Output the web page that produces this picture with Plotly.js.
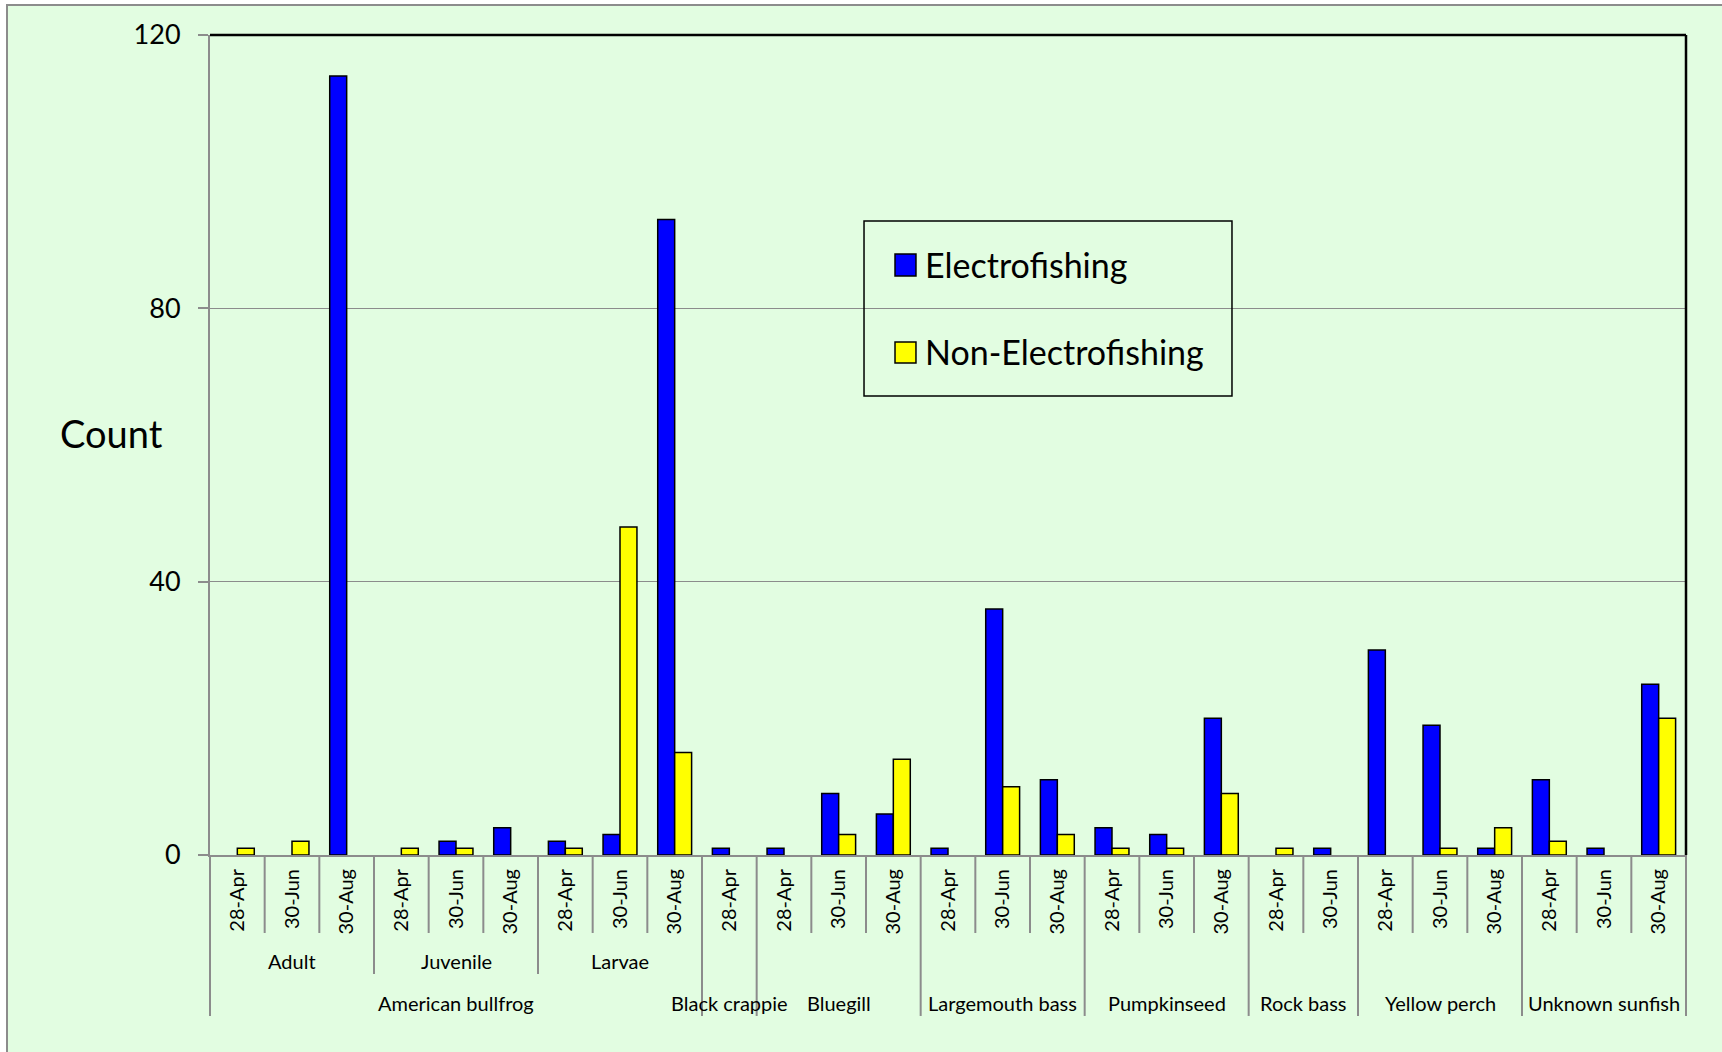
<!DOCTYPE html>
<html>
<head>
<meta charset="utf-8">
<script src="https://cdn.plot.ly/plotly-3.0.1.min.js"></script>
<style>
  html, body { margin: 0; padding: 0; background: #ffffff; width: 1722px; height: 1052px; overflow: hidden; }
  #frame { position: absolute; left: 6px; top: 4px; width: 1716px; height: 1048px;
           border-top: 2px solid #8c8c8c; border-left: 2px solid #8c8c8c; background: #E2FDE1; }
  #chart { position: absolute; left: 0; top: 0; width: 1714px; height: 1046px; }
</style>
</head>
<body>
<div id="frame"><div id="chart"></div></div>
<script>
// ---- data ----
const dates = ["28-Apr","30-Jun","30-Aug","28-Apr","30-Jun","30-Aug","28-Apr","30-Jun","30-Aug",
               "28-Apr",
               "28-Apr","30-Jun","30-Aug",
               "28-Apr","30-Jun","30-Aug",
               "28-Apr","30-Jun","30-Aug",
               "28-Apr","30-Jun",
               "28-Apr","30-Jun","30-Aug",
               "28-Apr","30-Jun","30-Aug"];
const subgroups = ["Adult","Adult","Adult","Juvenile","Juvenile","Juvenile","Larvae","Larvae","Larvae",
                   "","","","","","","","","","","","","","","","","",""];
const species = ["American bullfrog","American bullfrog","American bullfrog","American bullfrog","American bullfrog",
                 "American bullfrog","American bullfrog","American bullfrog","American bullfrog",
                 "Black crappie",
                 "Bluegill","Bluegill","Bluegill",
                 "Largemouth bass","Largemouth bass","Largemouth bass",
                 "Pumpkinseed","Pumpkinseed","Pumpkinseed",
                 "Rock bass","Rock bass",
                 "Yellow perch","Yellow perch","Yellow perch",
                 "Unknown sunfish","Unknown sunfish","Unknown sunfish"];
const electrofishing    = [0,0,114, 0,2,4, 2,3,93, 1, 1,9,6, 1,36,11, 4,3,20, 0,1, 30,19,1, 11,1,25];
const nonElectrofishing = [1,2,0,   1,1,0, 1,48,15, 0, 0,3,14, 0,10,3, 1,1,9, 1,0, 0,1,4, 2,0,20];
const seriesNames = ["Electrofishing", "Non-Electrofishing"];
const seriesColors = ["#0000FF", "#FFFF00"];
const yTicks = [0,40,80,120];

// ---- layout helpers ----
const idx = dates.map((d,i)=>i);
const FONT = "Lato, 'Open Sans', sans-serif";
const grey = "#8c8c8c";
const Y_DATE = -0.0951, Y_SUB = -0.1451, Y_SPEC = -0.1963;
const Y_SUBLABEL = -0.1293, Y_SPECLABEL = -0.1805;

const shapes = [];
for (let b = 0; b <= dates.length; b++) {
  let yEnd;
  if (b === 0 || b === dates.length || species[b] !== species[b-1]) yEnd = Y_SPEC;
  else if (subgroups[b] !== subgroups[b-1]) yEnd = Y_SUB;
  else yEnd = Y_DATE;
  const edge = (b === 0 || b === dates.length);
  shapes.push({type:"line", xref: edge ? "paper" : "x", yref:"paper",
    x0: edge ? (b===0?0:1) : b-0.5, x1: edge ? (b===0?0:1) : b-0.5,
    y0: 0, y1: yEnd, line:{color:grey, width:2}});
}
shapes.push({type:"line", xref:"paper", yref:"paper", x0:0, x1:1, y0:1, y1:1, line:{color:"#000", width:2.5}});
shapes.push({type:"line", xref:"paper", yref:"paper", x0:1, x1:1, y0:0, y1:1, line:{color:"#000", width:2.5}});

// legend (box, swatches, labels)
shapes.push({type:"rect", xref:"paper", yref:"paper", x0:0.4431, x1:0.6924, y0:0.5598, y1:0.7732,
  line:{color:"#000", width:1.5}, fillcolor:"rgba(0,0,0,0)"});
const legendRows = [{y0:0.7061, y1:0.7329, ty:0.7205}, {y0:0.6000, y1:0.6256, ty:0.6138}];

const annotations = [];
seriesNames.forEach((nm, k) => {
  const r = legendRows[k];
  shapes.push({type:"rect", xref:"paper", yref:"paper", x0:0.4641, x1:0.4783, y0:r.y0, y1:r.y1,
    line:{color:"#000", width:1.5}, fillcolor: seriesColors[k]});
  annotations.push({xref:"paper", yref:"paper", x:0.4832, y:r.ty, text:nm, showarrow:false,
    xanchor:"left", yanchor:"middle", font:{family:FONT, size:34, color:"#000"}});
});

function addGroupLabels(arr, y) {
  let start = 0;
  for (let i = 1; i <= arr.length; i++) {
    if (i === arr.length || arr[i] !== arr[start]) {
      if (arr[start]) annotations.push({xref:"x", yref:"paper", x:(start + i - 1)/2, y:y,
        text:arr[start], showarrow:false, xanchor:"center", yanchor:"middle",
        font:{family:FONT, size:20, color:"#000"}});
      start = i;
    }
  }
}
addGroupLabels(subgroups, Y_SUBLABEL);
addGroupLabels(species, Y_SPECLABEL);
annotations.push({xref:"paper", yref:"paper", x:-0.0664, y:0.5146, text:"Count", showarrow:false,
  xanchor:"center", yanchor:"middle", font:{family:FONT, size:38, color:"#000"}});

const outline = v => v.map(y => y > 0 ? 1.5 : 0);
const traces = [
  {type:"bar", name:seriesNames[0], x: idx, y: electrofishing,
   marker:{color:seriesColors[0], line:{color:"#000", width: outline(electrofishing)}}, hoverinfo:"y"},
  {type:"bar", name:seriesNames[1], x: idx, y: nonElectrofishing,
   marker:{color:seriesColors[1], line:{color:"#000", width: outline(nonElectrofishing)}}, hoverinfo:"y"}
];

const layout = {
  width: 1714, height: 1046,
  margin: {l: 202, r: 36, t: 29, b: 197},
  paper_bgcolor: "rgba(0,0,0,0)", plot_bgcolor: "rgba(0,0,0,0)",
  barmode: "group", bargap: 0.38, bargroupgap: 0,
  font: {family: FONT, color: "#000"},
  xaxis: {range: [-0.5, dates.length - 0.5], tickmode: "array", tickvals: idx, ticktext: dates,
          tickangle: -90, ticks: "", showgrid: false, zeroline: false, showline: true,
          linecolor: grey, linewidth: 2, tickfont: {family: FONT, size: 20, color: "#000"},
          ticklabelstandoff: 4, fixedrange: true},
  yaxis: {range: [0, 120], tickmode: "array", tickvals: yTicks, ticks: "outside", ticklen: 10,
          tickcolor: grey, tickwidth: 2, showline: true, linecolor: grey, linewidth: 2,
          showgrid: true, gridcolor: grey, gridwidth: 1.5, zeroline: false,
          tickfont: {family: FONT, size: 27, color: "#000"}, ticklabelstandoff: 12, fixedrange: true},
  shapes: shapes,
  annotations: annotations,
  showlegend: false
};

Plotly.newPlot("chart", traces, layout, {displayModeBar: false, staticPlot: true});
</script>
</body>
</html>
